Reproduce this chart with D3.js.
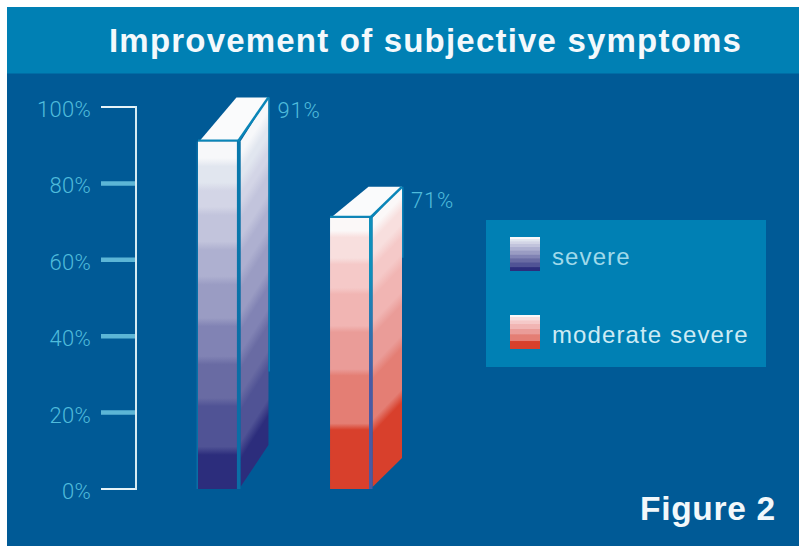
<!DOCTYPE html>
<html>
<head>
<meta charset="utf-8">
<script src="https://cdn.jsdelivr.net/npm/d3@7"></script>
<style>
html,body{margin:0;padding:0;background:#fff;overflow:hidden}
svg{display:block}
</style>
</head>
<body>
<div id="chart"></div>
<script>
const titleText = "Improvement of subjective symptoms";
const figureLabel = "Figure 2";
const categories = ["severe", "moderate severe"];
const improvement = [91, 71];
const tickValues = [0, 20, 40, 60, 80, 100];

// Shade bands of each bar, top to bottom, and where each band ends along the bar (0 to 1)
const blueBands = ["#f7f8fa", "#e1e6ef", "#d3d5e6", "#c2c4dc", "#aeb0d0", "#9a9cc3", "#8183b4", "#696ba3", "#505395", "#2c2d7c"];
const blueBandEnds = [0.06, 0.13, 0.2, 0.3, 0.4, 0.52, 0.63, 0.75, 0.89, 1];
const redBands = ["#fbf8f8", "#f8dfde", "#f5c9c8", "#f1b5b3", "#ea9c98", "#e47e74", "#d8402c"];
const redBandEnds = [0.06, 0.16, 0.27, 0.41, 0.57, 0.77, 1];

const W = 799, H = 546;
const svg = d3.select("#chart").append("svg").attr("width", W).attr("height", H);
const defs = svg.append("defs");

// Panel and header band
svg.append("rect").attr("x", 7).attr("y", 7).attr("width", W - 7).attr("height", H - 7).attr("fill", "#005a96");
svg.append("rect").attr("x", 7).attr("y", 7).attr("width", W - 7).attr("height", 66.5).attr("fill", "#0080b4");

svg.append("text").attr("x", 109).attr("y", 52)
  .attr("font-family", "Liberation Sans").attr("font-weight", 700).attr("font-size", 33)
  .attr("letter-spacing", 1.2).attr("fill", "#f4f9fc").text(titleText);

// Value axis
const y = d3.scaleLinear().domain([0, 100]).range([489, 107]);
const axisX = 136, tickStart = 101;
const axis = svg.append("g");
axis.selectAll("line.tick").data(tickValues).join("line")
  .attr("class", "tick")
  .attr("x1", tickStart).attr("x2", axisX)
  .attr("y1", d => y(d)).attr("y2", d => y(d))
  .attr("stroke", d => (d === 0 || d === 100) ? "#e6f3f8" : "#5cb6d6")
  .attr("stroke-width", d => (d === 0 || d === 100) ? 2 : 4.5);
axis.append("line").attr("x1", axisX).attr("x2", axisX)
  .attr("y1", y(100) - 1).attr("y2", y(0) + 1)
  .attr("stroke", "#d5ebf3").attr("stroke-width", 2);
axis.selectAll("text").data(tickValues).join("text")
  .attr("x", 91).attr("y", d => y(d) + 10)
  .attr("text-anchor", "end")
  .attr("font-family", "Roboto").attr("font-weight", 300).attr("font-size", 22)
  .attr("letter-spacing", 0.3).attr("fill", "#4fbcdc")
  .text(d => d + "%");

// Banded fill with short blends between neighbouring shades
function bandGradient(id, colors, ends, x1, y1, x2, y2, blend) {
  const g = defs.append("linearGradient").attr("id", id)
    .attr("gradientUnits", "userSpaceOnUse")
    .attr("x1", x1).attr("y1", y1).attr("x2", x2).attr("y2", y2);
  colors.forEach((c, i) => {
    const start = i === 0 ? 0 : ends[i - 1] + blend;
    const end = i === colors.length - 1 ? 1 : ends[i] - blend;
    g.append("stop").attr("offset", start).attr("stop-color", c);
    g.append("stop").attr("offset", end).attr("stop-color", c);
  });
  return `url(#${id})`;
}

const x = d3.scaleBand().domain(categories).range([198, 369]).paddingInner(0.705);
const bandSets = [blueBands, redBands];
const bandEnds = [blueBandEnds, redBandEnds];
const depths = [{dx: 28, dy: 44}, {dx: 29.5, dy: 31}];
const seamTop = ["#0878ac", "#0f8fbb"];
const seamBottom = ["#0a6ea6", "#4a5aa4"];
const sepW = 3.5;

categories.forEach((name, i) => {
  const x0 = x(name), w = x.bandwidth(), x1 = x0 + w, top = y(improvement[i]), base = y(0);
  const {dx, dy} = depths[i];
  const g = svg.append("g");
  const h = base - top;
  const sx = x1 + sepW, rx = sx + dx;

  const front = bandGradient("front" + i, bandSets[i], bandEnds[i], 0, top, 0, base, 0.012);
  // Side shading runs parallel to the receding top edge
  const nLen2 = dy * dy + dx * dx;
  const side = bandGradient("side" + i, bandSets[i], bandEnds[i], sx, top,
    sx + dy * h * dx / nLen2, top + dx * h * dx / nLen2, 0.025);

  const seam = defs.append("linearGradient").attr("id", "seam" + i)
    .attr("gradientUnits", "userSpaceOnUse").attr("x1", 0).attr("y1", top).attr("x2", 0).attr("y2", base);
  seam.append("stop").attr("offset", 0.2).attr("stop-color", seamTop[i]);
  seam.append("stop").attr("offset", 0.6).attr("stop-color", seamBottom[i]);

  // Front face
  g.append("rect").attr("x", x0).attr("y", top).attr("width", w).attr("height", h).attr("fill", front);
  // Side face
  g.append("path")
    .attr("d", d3.line()([[sx, top], [rx, top - dy], [rx, base - dy], [sx, base - 2]]))
    .attr("fill", side);
  // Top face
  g.append("path")
    .attr("d", d3.line()([[x0 + 2, top - 1], [rx - dx - 4, top - dy], [rx, top - dy], [x1 + 1, top - 1]]))
    .attr("fill", "#fafbfc");
  // Seams along the top, the front corner and the rear edge
  g.append("line").attr("x1", x1 + sepW / 2).attr("x2", x1 + sepW / 2).attr("y1", top).attr("y2", base)
    .attr("stroke", `url(#seam${i})`).attr("stroke-width", sepW);
  g.append("line").attr("x1", x0).attr("x2", x1 + sepW).attr("y1", top - 1).attr("y2", top - 1)
    .attr("stroke", "#0a86b8").attr("stroke-width", 2);
  g.append("line").attr("x1", x1 + 1).attr("y1", top).attr("x2", rx).attr("y2", top - dy)
    .attr("stroke", "#0a86b8").attr("stroke-width", 2.5);
  g.append("line").attr("x1", rx + 0.75).attr("x2", rx + 0.75).attr("y1", top - dy).attr("y2", top + (i === 0 ? 230 : 40))
    .attr("stroke", "#0a7fb4").attr("stroke-width", 1.5);
  if (i === 0) {
    g.append("line").attr("x1", x0 - 0.75).attr("x2", x0 - 0.75).attr("y1", top).attr("y2", base)
      .attr("stroke", "#0a6ea6").attr("stroke-width", 1.5);
  }

  // Value label beside the rear corner
  g.append("text")
    .attr("x", rx + 9).attr("y", top - dy + 21)
    .attr("font-family", "Roboto").attr("font-weight", 300).attr("font-size", 22)
    .attr("letter-spacing", 0.8).attr("fill", "#4fbcdc")
    .text(improvement[i] + "%");
});

// Legend
svg.append("rect").attr("x", 486).attr("y", 220).attr("width", 280).attr("height", 147).attr("fill", "#0080b4");
const legendRow = d3.scalePoint().domain(categories).range([237, 315]);
categories.forEach((name, i) => {
  const ly = legendRow(name);
  const fill = bandGradient("legend" + i, bandSets[i], bandEnds[i], 0, ly, 0, ly + 34, 0.01);
  svg.append("rect").attr("x", 510).attr("y", ly).attr("width", 30).attr("height", 34).attr("fill", fill);
  svg.append("text").attr("x", 552).attr("y", ly + 28)
    .attr("font-family", "Liberation Sans").attr("font-size", 24)
    .attr("letter-spacing", 1.1).attr("fill", i === 0 ? "#9fd9ea" : "#cdebf4")
    .text(name);
});

svg.append("text").attr("x", 640).attr("y", 520)
  .attr("font-family", "Liberation Sans").attr("font-weight", 700).attr("font-size", 33.5)
  .attr("letter-spacing", 0.7).attr("fill", "#f2f8fb").text(figureLabel);
</script>
</body>
</html>
